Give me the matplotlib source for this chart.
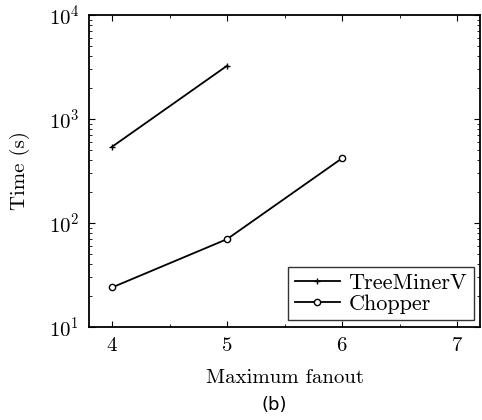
import numpy as np
import matplotlib
matplotlib.use("Agg")
import matplotlib.pyplot as plt
from matplotlib.ticker import LogLocator, MultipleLocator, NullFormatter

plt.rcParams["font.family"] = ["cmr10", "DejaVu Serif"]
plt.rcParams["mathtext.fontset"] = "cm"
plt.rcParams["axes.formatter.use_mathtext"] = True

# ── Data ──────────────────────────────────────────────────────────────────────
fanout_tm = [4, 5]
time_tm   = [540, 3250]
fanout_ch = [4, 5, 6]
time_ch   = [24, 70, 420]

fig = plt.figure(figsize=(4.82, 4.20), dpi=100)
ax = fig.add_axes([0.1846, 0.2214, 0.812, 0.743])

ax.plot(fanout_tm, time_tm, color="black", lw=1.3, marker="+", ms=5, mew=1,
        label="TreeMinerV")
ax.plot(fanout_ch, time_ch, color="black", lw=1.3, marker="o", ms=4.5,
        mfc="white", mew=1, label="Chopper")

ax.set_yscale("log")
ax.set_xlim(3.8, 7.2)
ax.set_ylim(10, 1e4)
ax.set_xticks([4, 5, 6, 7])
ax.xaxis.set_minor_locator(MultipleLocator(0.5))
ax.yaxis.set_minor_locator(LogLocator(base=10, subs=np.arange(2, 10)))
ax.yaxis.set_minor_formatter(NullFormatter())
ax.tick_params(which="both", direction="in", top=True, right=True, labelsize=15)
ax.tick_params(which="major", length=4, pad=7)
ax.tick_params(which="minor", length=2)
for s in ax.spines.values():
    s.set_linewidth(1.3)

ax.set_xlabel("Maximum fanout", fontsize=15, labelpad=10)
ax.set_ylabel("Time (s)", fontsize=15, labelpad=13)

leg = ax.legend(loc="lower right", fontsize=16, frameon=True, fancybox=False,
                edgecolor="black", handlelength=2.0, borderpad=0.3,
                labelspacing=0.05, handletextpad=0.4, borderaxespad=0.3)
leg.get_frame().set_linewidth(1.0)

fig.text(0.57, 0.036, "(b)", fontsize=13,
         family="DejaVu Sans", ha="center", va="center")

fig.savefig("out.png", dpi=100)
